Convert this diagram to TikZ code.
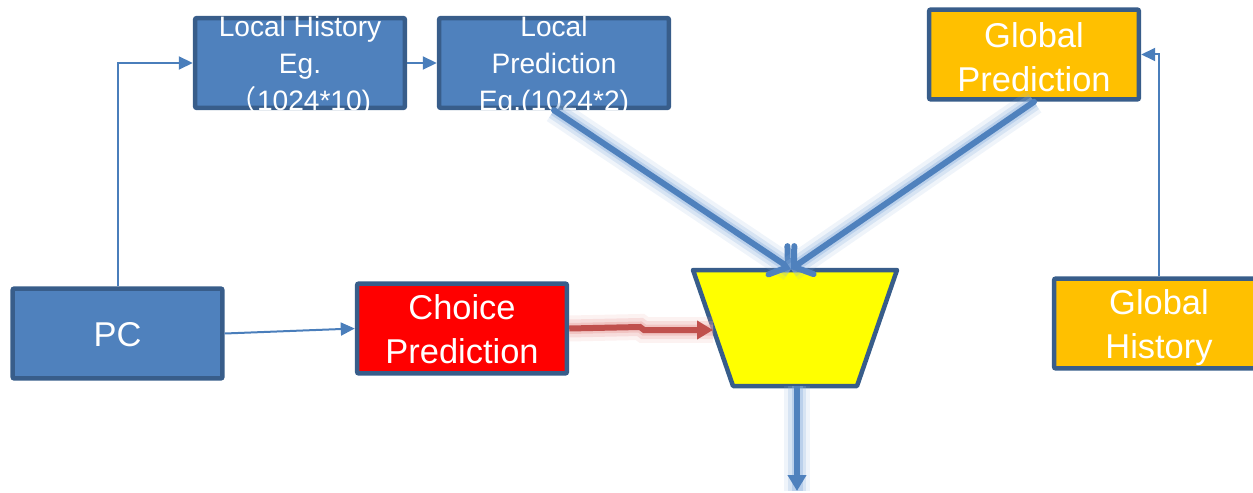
\documentclass[tikz,border=0pt]{standalone}
\usepackage{fontspec}
\setmainfont{Liberation Sans}
\newfontfamily\cjkfont{Noto Sans CJK SC}
\usetikzlibrary{arrows.meta}

\definecolor{boxblue}{HTML}{4F81BD}
\definecolor{edgeblue}{HTML}{385D8A}
\definecolor{linkblue}{HTML}{4A7EBB}
\definecolor{amber}{HTML}{FFC000}
\definecolor{brickred}{HTML}{C0504D}
\definecolor{brightred}{HTML}{FF0000}
\definecolor{muxyellow}{HTML}{FFFF00}
\definecolor{haloblue}{HTML}{8FB3DE}
\definecolor{halored}{HTML}{E8A09E}

\tikzset{
  unitbox/.style={draw=edgeblue, line width=0.09cm, rounded corners=0.04cm,
    minimum width=4.2cm, minimum height=1.8cm, inner sep=0pt},
  bluebox/.style={unitbox, fill=boxblue},
  amberbox/.style={unitbox, fill=amber},
  redbox/.style={unitbox, fill=brightred},
  bigtext/.style={text=white, align=center, inner sep=0pt,
    font=\fontsize{19.6pt}{25pt}\selectfont},
  smalltext/.style={text=white, align=center, inner sep=0pt,
    font=\fontsize{16pt}{21pt}\selectfont},
  thinlink/.style={draw=linkblue, line width=0.04cm,
    -{Triangle[length=0.28cm, width=0.26cm]}},
  halo/.style={
    preaction={draw=#1, line width=0.52cm, opacity=0.14, arrows=-},
    preaction={draw=#1, line width=0.36cm, opacity=0.25, arrows=-},
    preaction={draw=#1, line width=0.22cm, opacity=0.40, arrows=-}},
  feedlink/.style={draw=boxblue, line width=0.12cm, line cap=round,
    halo=haloblue,
    -{Straight Barb[length=0.24cm, width=0.68cm, line cap=round]}},
  outlink/.style={draw=boxblue, line width=0.12cm, halo=haloblue,
    -{Triangle[length=0.32cm, width=0.36cm]}},
  selectlink/.style={draw=brickred, line width=0.12cm, halo=halored,
    -{Triangle[length=0.32cm, width=0.36cm]}},
}

\begin{document}
\begin{tikzpicture}[x=0.02cm, y=-0.02cm]
  \useasboundingbox (0,0) rectangle (1253,493);

  % predictor tables
  \node[bluebox, minimum width=4.2cm] (lh) at (300,63) {};
  \node[bluebox, minimum width=4.6cm] (lp) at (554,63) {};
  \node[amberbox] (gp) at (1034,54.5) {};
  \node[bluebox] (pc) at (117.5,333.5) {};
  \node[redbox] (cp) at (462,328.5) {};
  \node[amberbox] (gh) at (1159,323.5) {};

  % captions of the local tables overflow their boxes and are cut at the outer edge
  \begin{scope}
    \clip (lh.north west) rectangle (lh.south east);
    \node[smalltext] (lhtext) at ([yshift=-0.06cm]lh.center)
      {Local History\\Eg.\\{\cjkfont （}1024*10)};
  \end{scope}
  \begin{scope}
    \clip (lp.north west) rectangle (lp.south east);
    \node[smalltext] (lptext) at ([yshift=-0.06cm]lp.center)
      {Local\\Prediction\\Eg.(1024*2)};
  \end{scope}

  % other captions
  \node[bigtext] (gptext) at ([yshift=-0.06cm]gp.center) {Global\\Prediction};
  \node[bigtext] (pctext) at ([yshift=-0.02cm]pc.center) {PC};
  \node[bigtext] (cptext) at ([yshift=-0.02cm]cp.center) {Choice\\Prediction};
  \node[bigtext] (ghtext) at ([yshift=-0.08cm]gh.center) {Global\\History};

  % selector
  \path[fill=muxyellow, draw=edgeblue, line width=0.09cm, line join=round]
    (693,270) -- (897,270) -- (857,386) -- (733,386) -- cycle;
  \coordinate (muxtop) at (791,269);
  \coordinate (muxleft) at (713,330);
  \coordinate (muxbottom) at (797,386);
  \coordinate (result) at (797,491);

  % index paths
  \draw[thinlink] (pc.north) |- (lh.west);
  \draw[thinlink] (lh.east) -- (lp.west);
  \draw[thinlink] (pc.east) -- (cp.west);
  \draw[thinlink] (gh.north) |- (gp.east);

  % prediction paths into the selector
  \draw[feedlink] (lp.south) -- (muxtop);
  \draw[feedlink] (gp.south) -- (muxtop);
  \draw[selectlink] (cp.east) -- (640,327) -- (644,330) -- (muxleft);
  \draw[outlink] (muxbottom) -- (result);
\end{tikzpicture}
\end{document}
